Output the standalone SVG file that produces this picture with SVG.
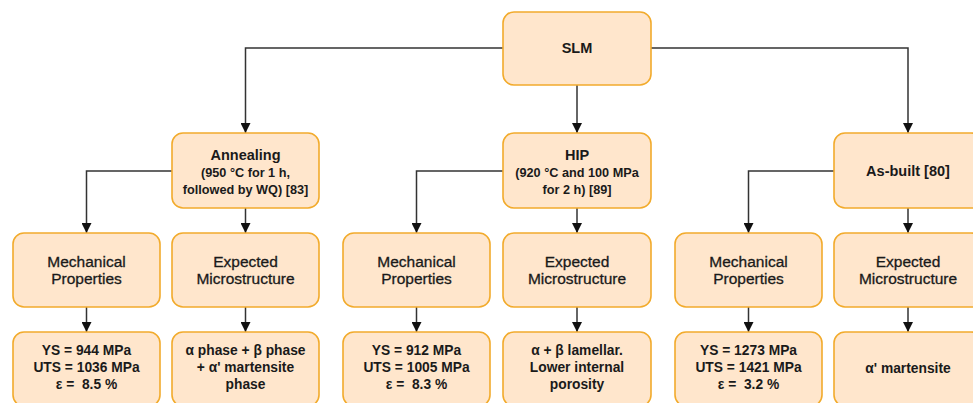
<svg xmlns="http://www.w3.org/2000/svg" width="973" height="403" viewBox="0 0 973 403">
<style>
.box{fill:#ffe6cc;stroke:#f2ab2c;stroke-width:1.6}
.t{font-family:"Liberation Sans",Arial,sans-serif;fill:#1a1a1a;text-anchor:middle}
.h{font-size:14.5px;font-weight:bold}
.s{font-size:12.7px;font-weight:bold}
.r{font-size:15.5px;stroke:#1a1a1a;stroke-width:0.3}
.b{font-size:13.8px;font-weight:bold}
.c{fill:none;stroke:#333333;stroke-width:1.5}
</style>
<defs>
<marker id="arr" viewBox="0 0 10 10" refX="10" refY="5" markerWidth="10" markerHeight="10" markerUnits="userSpaceOnUse" orient="auto">
<path d="M0,0 L10,5 L0,10 z" fill="#111111"/>
</marker>
</defs>
<rect width="973" height="403" fill="#ffffff"/>
<g id="connectors">
<path class="c" d="M503,48 H245.5 V133" marker-end="url(#arr)"/>
<path class="c" d="M577,85 V133" marker-end="url(#arr)"/>
<path class="c" d="M651,48 H908 V133" marker-end="url(#arr)"/>
<path class="c" d="M172,171 H86.5 V233" marker-end="url(#arr)"/>
<path class="c" d="M245.5,208 V233" marker-end="url(#arr)"/>
<path class="c" d="M503,171 H416.5 V233" marker-end="url(#arr)"/>
<path class="c" d="M577,208 V233" marker-end="url(#arr)"/>
<path class="c" d="M834,171 H748.5 V233" marker-end="url(#arr)"/>
<path class="c" d="M908,208 V233" marker-end="url(#arr)"/>
<path class="c" d="M86.5,307 V332" marker-end="url(#arr)"/>
<path class="c" d="M245.5,307 V332" marker-end="url(#arr)"/>
<path class="c" d="M416.5,307 V332" marker-end="url(#arr)"/>
<path class="c" d="M577,307 V332" marker-end="url(#arr)"/>
<path class="c" d="M748.5,307 V332" marker-end="url(#arr)"/>
<path class="c" d="M908,307 V332" marker-end="url(#arr)"/>
</g>
<g id="slm">
<rect class="box" x="503" y="12" width="148" height="73" rx="11"/>
<text class="t h" x="577" y="53">SLM</text>
</g>
<g id="annealing">
<rect class="box" x="172" y="133" width="147" height="75" rx="11"/>
<text class="t h" x="245.5" y="160">Annealing</text>
<text class="t s" x="245.5" y="177">(950 °C for 1 h,</text>
<text class="t s" x="245.5" y="194">followed by WQ) [83]</text>
</g>
<g id="hip">
<rect class="box" x="503" y="133" width="148" height="75" rx="11"/>
<text class="t h" x="577" y="160">HIP</text>
<text class="t s" x="577" y="177">(920 °C and 100 MPa</text>
<text class="t s" x="577" y="194">for 2 h) [89]</text>
</g>
<g id="asbuilt">
<rect class="box" x="834" y="133" width="148" height="75" rx="11"/>
<text class="t h" x="908" y="176">As-built [80]</text>
</g>
<g id="mech1">
<rect class="box" x="13" y="233" width="147" height="74" rx="11"/>
<text class="t r" x="86.5" y="267">Mechanical</text>
<text class="t r" x="86.5" y="284">Properties</text>
</g>
<g id="micro1">
<rect class="box" x="172" y="233" width="147" height="74" rx="11"/>
<text class="t r" x="245.5" y="267">Expected</text>
<text class="t r" x="245.5" y="284">Microstructure</text>
</g>
<g id="mech2">
<rect class="box" x="343" y="233" width="147" height="74" rx="11"/>
<text class="t r" x="416.5" y="267">Mechanical</text>
<text class="t r" x="416.5" y="284">Properties</text>
</g>
<g id="micro2">
<rect class="box" x="503" y="233" width="148" height="74" rx="11"/>
<text class="t r" x="577" y="267">Expected</text>
<text class="t r" x="577" y="284">Microstructure</text>
</g>
<g id="mech3">
<rect class="box" x="675" y="233" width="147" height="74" rx="11"/>
<text class="t r" x="748.5" y="267">Mechanical</text>
<text class="t r" x="748.5" y="284">Properties</text>
</g>
<g id="micro3">
<rect class="box" x="834" y="233" width="148" height="74" rx="11"/>
<text class="t r" x="908" y="267">Expected</text>
<text class="t r" x="908" y="284">Microstructure</text>
</g>
<g id="val1">
<rect class="box" x="13" y="332" width="147" height="74" rx="11"/>
<text class="t b" x="86.5" y="355">YS = 944 MPa</text>
<text class="t b" x="86.5" y="372">UTS = 1036 MPa</text>
<text class="t b" x="86.5" y="389">ε =&#160; 8.5 %</text>
</g>
<g id="val2">
<rect class="box" x="172" y="332" width="147" height="74" rx="11"/>
<text class="t b" x="245.5" y="355">α phase + β phase</text>
<text class="t b" x="245.5" y="372">+ α' martensite</text>
<text class="t b" x="245.5" y="389">phase</text>
</g>
<g id="val3">
<rect class="box" x="343" y="332" width="147" height="74" rx="11"/>
<text class="t b" x="416.5" y="355">YS = 912 MPa</text>
<text class="t b" x="416.5" y="372">UTS = 1005 MPa</text>
<text class="t b" x="416.5" y="389">ε =&#160; 8.3 %</text>
</g>
<g id="val4">
<rect class="box" x="503" y="332" width="148" height="74" rx="11"/>
<text class="t b" x="577" y="355">α + β lamellar.</text>
<text class="t b" x="577" y="372">Lower internal</text>
<text class="t b" x="577" y="389">porosity</text>
</g>
<g id="val5">
<rect class="box" x="675" y="332" width="147" height="74" rx="11"/>
<text class="t b" x="748.5" y="355">YS = 1273 MPa</text>
<text class="t b" x="748.5" y="372">UTS = 1421 MPa</text>
<text class="t b" x="748.5" y="389">ε =&#160; 3.2 %</text>
</g>
<g id="val6">
<rect class="box" x="834" y="332" width="148" height="74" rx="11"/>
<text class="t b" x="908" y="373">α' martensite</text>
</g>
</svg>
